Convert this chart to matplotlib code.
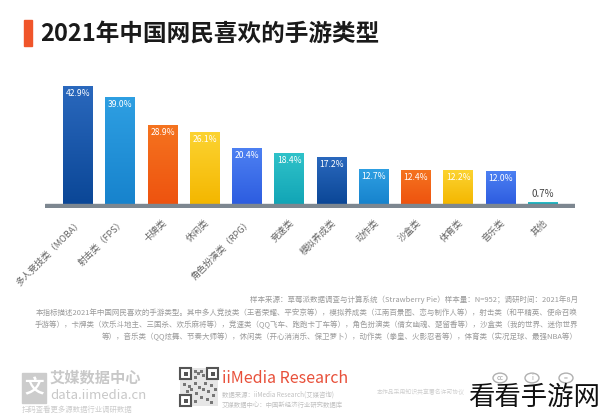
import matplotlib
matplotlib.use("Agg")
import matplotlib.pyplot as plt
import numpy as np
from matplotlib.patches import Rectangle, Circle
from matplotlib.colors import LinearSegmentedColormap

plt.rcParams['font.family'] = ['Noto Sans CJK SC', 'DejaVu Sans']

# ---------------- data ----------------
categories = ["多人竞技类（MOBA）", "射击类（FPS）", "卡牌类", "休闲类", "角色扮演类（RPG）",
              "竞速类", "模拟养成类", "动作类", "沙盒类", "体育类", "音乐类", "其他"]
values = [42.9, 39.0, 28.9, 26.1, 20.4, 18.4, 17.2, 12.7, 12.4, 12.2, 12.0, 0.7]
value_labels = ["42.9%", "39.0%", "28.9%", "26.1%", "20.4%", "18.4%",
                "17.2%", "12.7%", "12.4%", "12.2%", "12.0%", "0.7%"]
# (top colour, bottom colour) per bar
bar_colors = [("#2a68bd", "#0b4797"), ("#2e9fe2", "#1783cd"), ("#f5731f", "#ee530f"),
              ("#fcd331", "#f4b700"), ("#4d80f2", "#2d5de0"), ("#2fc2c9", "#12a5b6"),
              ("#2a68bd", "#0b4797"), ("#2e9fe2", "#1783cd"), ("#f5731f", "#ee530f"),
              ("#fcd331", "#f4b700"), ("#4d80f2", "#2d5de0"), ("#2fc2c9", "#12a5b6")]

title = "2021年中国网民喜欢的手游类型"
note_lines = [
    "样本来源：草莓派数据调查与计算系统（Strawberry Pie）样本量：N=952；调研时间：2021年8月",
    "本指标描述2021年中国网民喜欢的手游类型。其中多人竞技类（王者荣耀、平安京等），模拟养成类（江南百景图、恋与制作人等），射击类（和平精英、使命召唤",
    "手游等），卡牌类（欢乐斗地主、三国杀、欢乐麻将等），竞速类（QQ飞车、跑跑卡丁车等），角色扮演类（倩女幽魂、楚留香等），沙盒类（我的世界、迷你世界",
    "等），音乐类（QQ炫舞、节奏大师等），休闲类（开心消消乐、保卫萝卜），动作类（拳皇、火影忍者等），体育类（实况足球、最强NBA等）",
]

W, H = 600, 419
fig = plt.figure(figsize=(6, 4.19), dpi=100)
fig.patch.set_facecolor("white")


def P(x, y):
    return (x / W, 1 - y / H)


# ---------------- title ----------------
fig.patches.append(Rectangle(P(24, 46), 8 / W, 26 / H, transform=fig.transFigure,
                             color="#f0552a", zorder=5))
fig.text(*P(40, 34), title, fontsize=17, fontweight="bold", color="#1a1a1a",
         va="center", ha="left")

# ---------------- chart ----------------
ymin, ymax = -1.47, 45.8
px_per_unit = 2.73
ax_h = (ymax - ymin) * px_per_unit
ax_bottom_px = 208.1
x0_px, x1_px = 45, 575
spacing = 42.25
c0 = 78
xmin = (x0_px - c0) / spacing
xmax = (x1_px - c0) / spacing
ax = fig.add_axes([x0_px / W, 1 - ax_bottom_px / H, (x1_px - x0_px) / W, ax_h / H])
ax.set_facecolor("none")
for s in ax.spines.values():
    s.set_visible(False)

x = np.arange(len(categories))
bw = 0.71
bars = ax.bar(x, values, width=bw, color=[c[1] for c in bar_colors], zorder=2)
grad = np.linspace(0, 1, 100).reshape(-1, 1)
for i, (b, (ct, cb)) in enumerate(zip(bars, bar_colors)):
    cmap = LinearSegmentedColormap.from_list("g%d" % i, [cb, ct])
    ax.imshow(grad, cmap=cmap, aspect="auto", origin="lower",
              extent=[b.get_x(), b.get_x() + b.get_width(), 0, b.get_height()], zorder=3)

ax.axhspan(ymin, 0, color="#7d8790", zorder=4)

for i, (v, lab) in enumerate(zip(values, value_labels)):
    if v > 5:
        ax.text(x[i], v - 0.9, lab, ha="center", va="top", fontsize=6.2,
                color="white", zorder=5)
    else:
        ax.text(x[i], v + 1.2, lab, ha="center", va="bottom", fontsize=7,
                color="#444444", zorder=5)

ax.set_xlim(xmin, xmax)
ax.set_ylim(ymin, ymax)
ax.set_yticks([])
ax.set_xticks(x)
ax.set_xticklabels(categories, rotation=45, ha="right", va="top",
                   rotation_mode="anchor", fontsize=6.6, color="#666666")
ax.tick_params(axis="x", length=0, pad=7)

# ---------------- notes ----------------
note_y = [300, 313, 325, 337]
for line, yy in zip(note_lines, note_y):
    fig.text(*P(578, yy), line, fontsize=5.4, color="#9a9a9a", ha="right", va="center")

# ---------------- footer ----------------
# logo icon
fig.patches.append(Rectangle(P(22, 403), 24 / W, 30 / H, transform=fig.transFigure,
                             color="#cccccc", zorder=2))
fig.text(*P(34, 388), "文", fontsize=14, fontweight="bold", color="white",
         ha="center", va="center", zorder=3)
fig.text(*P(50, 378), "艾媒数据中心", fontsize=11, fontweight="bold", color="#c8c8c8",
         ha="left", va="center")
fig.text(*P(50, 395), "data.iimedia.cn", fontsize=9.5, color="#c8c8c8",
         ha="left", va="center")
fig.text(*P(22, 410), "扫码查看更多源数据行业调研数据", fontsize=5.3, color="#cccccc",
         ha="left", va="center")

# QR code (decorative)
qx, qy, qs = 180, 368, 38
fig.patches.append(Rectangle(P(qx, qy + qs), qs / W, qs / H, transform=fig.transFigure,
                             facecolor="#e6e6e6", edgecolor="none", zorder=2))
for fx, fy in [(qx, qy), (qx + qs - 11, qy), (qx, qy + qs - 11)]:
    fig.patches.append(Rectangle(P(fx, fy + 11), 11 / W, 11 / H, transform=fig.transFigure,
                                 facecolor="white", edgecolor="#555555", lw=1.5, zorder=3))
    fig.patches.append(Rectangle(P(fx + 3.5, fy + 7.5), 4 / W, 4 / H, transform=fig.transFigure,
                                 facecolor="#555555", edgecolor="none", zorder=4))
qr_cells = [(14, 2), (17, 4), (20, 2), (14, 8), (22, 6), (3, 15), (8, 17), (14, 14), (18, 18),
            (24, 14), (30, 16), (27, 22), (15, 24), (20, 28), (26, 30), (32, 26), (14, 32),
            (30, 33), (22, 20), (6, 22), (10, 20), (34, 20)]
for cx, cy in qr_cells:
    fig.patches.append(Rectangle(P(qx + cx, qy + cy + 3), 3 / W, 3 / H, transform=fig.transFigure,
                                 facecolor="#777777", edgecolor="none", zorder=3))

fig.text(*P(222, 378), "iiMedia Research", fontsize=11.5, color="#e8503a",
         ha="left", va="center")
fig.text(*P(222, 395), "数据来源：iiMedia Research(艾媒咨询)", fontsize=4.6, color="#c0c0c0",
         ha="left", va="center")
fig.text(*P(222, 405), "艾媒数据中心：中国新经济行业研究数据库", fontsize=4.6, color="#c0c0c0",
         ha="left", va="center")

# cc icons
for cx, sym in [(500, "cc"), (532, "i"), (566, "=")]:
    fig.patches.append(Circle(P(cx, 378), 7 / W, transform=fig.transFigure,
                              facecolor="white", edgecolor="#b0b0b0", lw=1, zorder=2))
    fig.text(*P(cx, 378), sym, fontsize=5, color="#a0a0a0", ha="center", va="center", zorder=3)
fig.text(*P(465, 392), "本作品采用知识共享署名许可协议", fontsize=4.2, color="#cfcfcf",
         ha="right", va="center")

# watermark
fig.text(*P(600, 397), "看看手游网", fontsize=19, color="#111111", ha="right", va="center",
         zorder=6)

fig.savefig("out.png", dpi=100, facecolor="white")
